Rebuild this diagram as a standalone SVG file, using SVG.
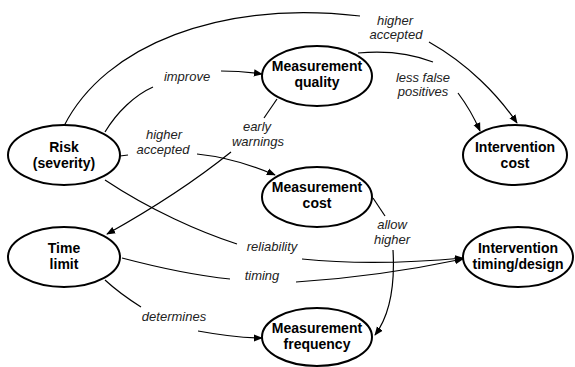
<svg xmlns="http://www.w3.org/2000/svg" width="575" height="367" viewBox="0 0 575 367">
<style>
.node ellipse{fill:#fff;stroke:#000;stroke-width:2}
.node text{font-family:"Liberation Sans",Arial,sans-serif;font-size:14px;font-weight:bold;text-anchor:middle;fill:#000}
.edges path{fill:none;stroke:#000;stroke-width:1.2}
.lbl{font-family:"Liberation Sans",Arial,sans-serif;font-size:13px;font-style:italic;text-anchor:middle;fill:#222}
</style>
<defs>
<marker id="arr" viewBox="0 0 10 10" refX="9" refY="5" markerWidth="9" markerHeight="9" markerUnits="userSpaceOnUse" orient="auto">
<path d="M0,1 L10,5 L0,9 Z" fill="#000"/>
</marker>
</defs>
<rect width="575" height="367" fill="#fff"/>
<g class="edges">
<path d="M64,126 C105,45 220,0 360,16"/>
<path d="M429,42 C468,64 498,95 517,123" marker-end="url(#arr)"/>
<path d="M105,132 C117,112 135,95 153,87"/>
<path d="M221,71 C235,71 248,72 262,74" marker-end="url(#arr)"/>
<path d="M358,53 C390,50 415,55 433,62"/>
<path d="M458,93 C467,105 474,117 480,131" marker-end="url(#arr)"/>
<path d="M277,99 L264,118"/>
<path d="M231,152 C190,185 150,210 107,234" marker-end="url(#arr)"/>
<path d="M120,156 L128,155"/>
<path d="M197,154 C225,157 252,165 275,175" marker-end="url(#arr)"/>
<path d="M105,180 C150,210 200,232 237,244"/>
<path d="M302,259 C360,265 420,262 463,258" marker-end="url(#arr)"/>
<path d="M122,258 C160,268 200,276 230,279"/>
<path d="M296,282 C360,278 420,268 463,259" marker-end="url(#arr)"/>
<path d="M105,280 C118,292 130,300 141,307"/>
<path d="M198,331 C220,335 240,338 262,338" marker-end="url(#arr)"/>
<path d="M373,198 L385,216"/>
<path d="M393,250 C395,285 390,315 375,335" marker-end="url(#arr)"/>
</g>
<g class="labels">
<text class="lbl" x="395" y="25">higher</text>
<text class="lbl" x="396" y="39">accepted</text>
<text class="lbl" x="187" y="81">improve</text>
<text class="lbl" x="423" y="82">less false</text>
<text class="lbl" x="423" y="96">positives</text>
<text class="lbl" x="257" y="131">early</text>
<text class="lbl" x="258" y="146">warnings</text>
<text class="lbl" x="164" y="139">higher</text>
<text class="lbl" x="163" y="154">accepted</text>
<text class="lbl" x="392" y="229">allow</text>
<text class="lbl" x="392" y="244">higher</text>
<text class="lbl" x="272" y="251">reliability</text>
<text class="lbl" x="262" y="280">timing</text>
<text class="lbl" x="174" y="321">determines</text>
</g>
<g id="risk" class="node"><ellipse cx="64" cy="155" rx="56" ry="30"/><text x="64" y="152">Risk</text><text x="64" y="168">(severity)</text></g>
<g id="mquality" class="node"><ellipse cx="317" cy="76" rx="55" ry="30"/><text x="317" y="71">Measurement</text><text x="317" y="87">quality</text></g>
<g id="icost" class="node"><ellipse cx="515" cy="155" rx="52" ry="30"/><text x="515" y="152">Intervention</text><text x="515" y="168">cost</text></g>
<g id="mcost" class="node"><ellipse cx="317" cy="197" rx="55" ry="30"/><text x="317" y="192">Measurement</text><text x="317" y="208">cost</text></g>
<g id="timelimit" class="node"><ellipse cx="64" cy="257" rx="56" ry="30"/><text x="64" y="253">Time</text><text x="64" y="269">limit</text></g>
<g id="itiming" class="node"><ellipse cx="518" cy="257" rx="55" ry="30"/><text x="518" y="253">Intervention</text><text x="518" y="269">timing/design</text></g>
<g id="mfreq" class="node"><ellipse cx="317" cy="337" rx="55" ry="29"/><text x="317" y="333">Measurement</text><text x="317" y="349">frequency</text></g>
</svg>
